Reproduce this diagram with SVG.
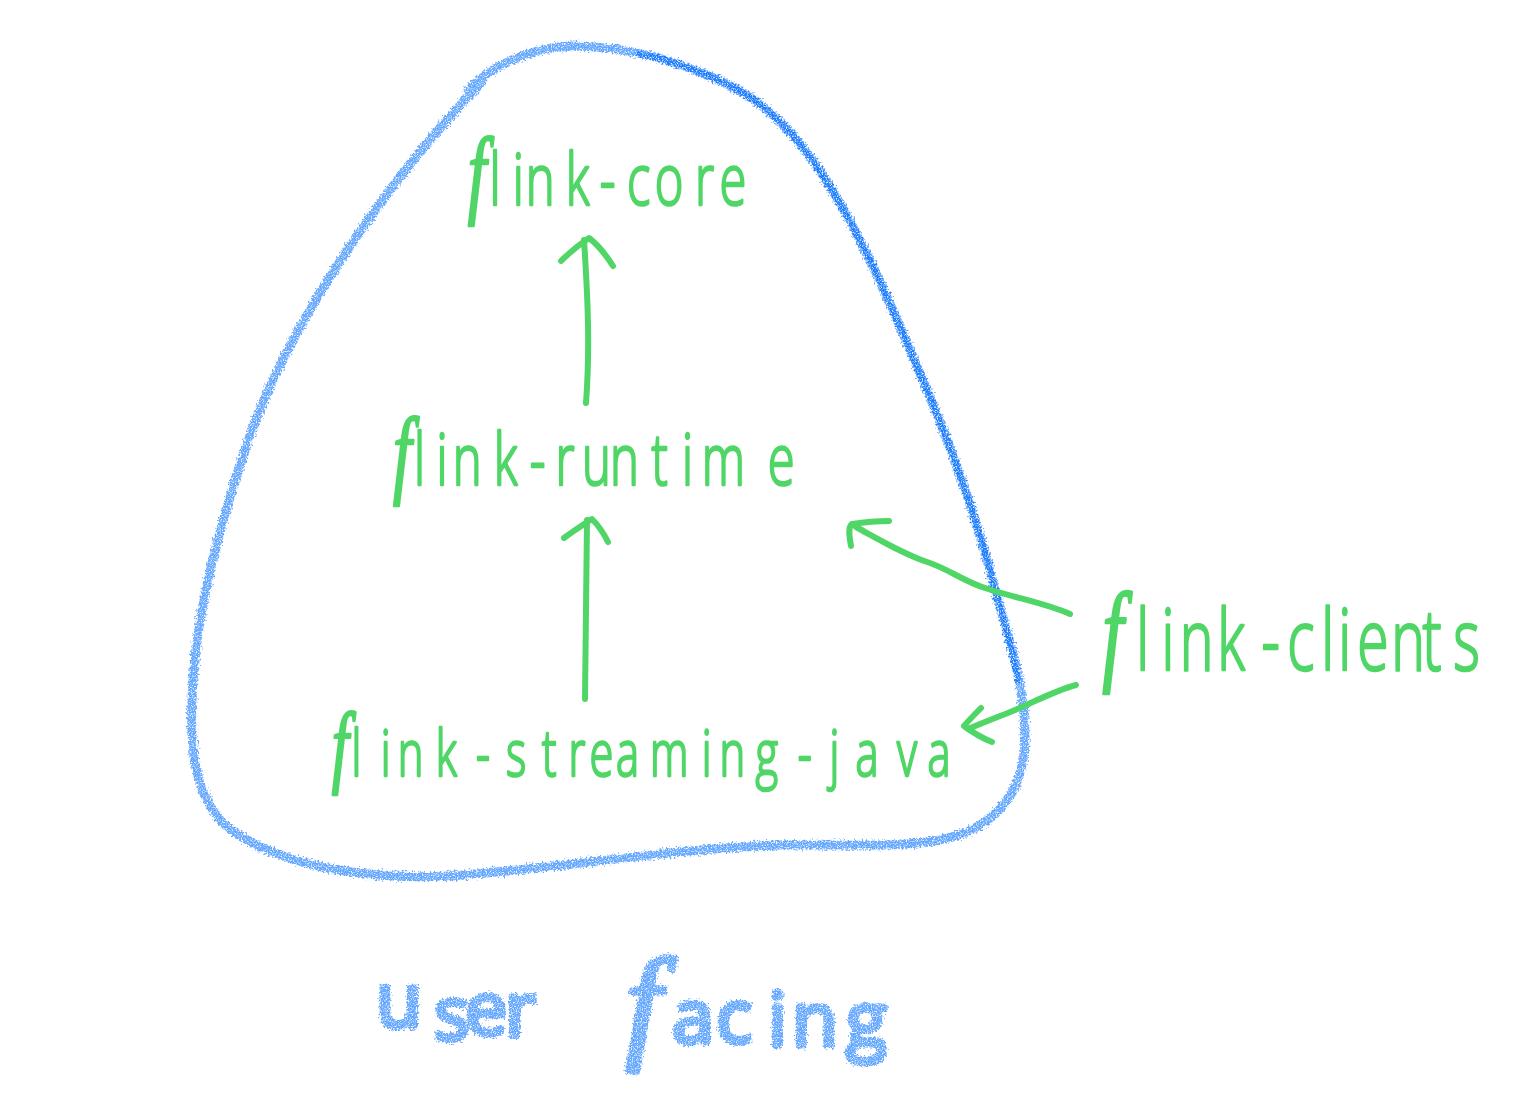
<svg xmlns="http://www.w3.org/2000/svg" width="1536" height="1114" viewBox="0 0 1536 1114">
<style>
.g{fill:none;stroke:#4fd666;stroke-width:6;stroke-linecap:round;stroke-linejoin:round}
.t{font-family:"Open Sans","DejaVu Sans",sans-serif;font-weight:300;fill:#4fd666;stroke:#4fd666;stroke-width:2.6;stroke-linejoin:round}
.f{font-family:"Liberation Serif",serif;font-style:italic;font-weight:400}
.b{fill:none;stroke:#2a85ff;stroke-width:9;stroke-linecap:round;stroke-linejoin:round;opacity:.72}
.d{fill:none;stroke:#1a7bff;stroke-width:6;stroke-linecap:round;stroke-linejoin:round}
.u{font-family:"Open Sans","DejaVu Sans",sans-serif;font-weight:400;font-size:75px;fill:#2a85ff;stroke:#2a85ff;stroke-width:5;stroke-linejoin:round;opacity:.72}
</style>
<defs>
<filter id="crayon" filterUnits="userSpaceOnUse" x="0" y="0" width="1536" height="1114">
<feTurbulence type="fractalNoise" baseFrequency="0.5" numOctaves="2" seed="4" result="n"/>
<feDisplacementMap in="SourceGraphic" in2="n" scale="8" xChannelSelector="R" yChannelSelector="G" result="d"/>
<feTurbulence type="fractalNoise" baseFrequency="0.8" numOctaves="2" seed="9"/>
<feColorMatrix type="matrix" values="0 0 0 0 0 0 0 0 0 0 0 0 0 0 0 3 0 0 0 -0.6" result="grain"/>
<feComposite in="d" in2="grain" operator="in" result="c"/>
<feGaussianBlur in="c" stdDeviation="0.7"/>
</filter>
</defs>
<g id="boundary" filter="url(#crayon)">
<path class="b" d="M468 90C490 68 525 48 572 46C625 46 680 60 735 88C775 110 805 145 832 190C860 235 885 290 912 355C945 430 975 510 995 590C1010 640 1025 690 1025 735C1025 785 1005 815 965 833C920 850 860 844 780 845C680 848 560 868 450 876C360 880 275 865 225 825C195 795 190 750 192 700C195 620 215 540 245 450C275 360 330 270 390 190C420 150 445 120 482 82"/>
<path class="d" d="M640 54C680 62 710 75 735 88C775 110 805 145 832 190C860 235 885 290 912 355C945 430 975 510 995 590C1004 620 1012 650 1018 680"/>
</g>
<g id="connectors">
<path class="g" d="M586 403C590 350 588 300 584 240M561 261C570 252 580 244 589 238C597 244 606 255 613 266"/>
<path class="g" d="M585 699C586 640 586 580 587 520M564 538C572 532 581 526 592 519C598 525 604 534 608 542"/>
<path class="g" d="M856 527C880 540 905 555 930 563C950 570 965 582 985 588C1015 598 1045 603 1070 614M851 546C849 535 848 527 852 524C865 522 878 521 889 521"/>
<path class="g" d="M1076 685C1050 692 1030 705 1000 716C985 722 975 726 968 729M981 708C975 714 969 720 964 726C972 732 982 738 992 742"/>
</g>
<g id="flink-core" transform="scale(.68,1)"><text class="t" style="font-size:72px" y="205"><tspan class="f" style="font-size:98px" x="688">f</tspan><tspan x="720 754 773 832 882 922 963 1022 1058">link-core</tspan></text></g>
<g id="flink-runtime" transform="scale(.68,1)"><text class="t" style="font-size:72px" y="485"><tspan class="f" style="font-size:98px" x="578">f</tspan><tspan x="609 642 666 726 779 817 856 897 958 1003 1032 1129">link-runtime</tspan></text></g>
<g id="flink-streaming-java" transform="scale(.68,1)"><text class="t" style="font-size:64px" y="776"><tspan class="f" style="font-size:90px" x="488">f</tspan><tspan x="517 560 585 641 700 744 797 836 867 906 956 1032 1058 1111 1173 1220 1258 1319 1364">link-streaming-java</tspan></text></g>
<g id="flink-clients" transform="scale(.68,1)"><text class="t" style="font-size:84px" y="670"><tspan class="f" style="font-size:112px" x="1621">f</tspan><tspan x="1671 1708 1735 1790 1855 1893 1943 1968 1996 2046 2092 2137">link-clients</tspan></text></g>
<g id="user-facing" filter="url(#crayon)"><text class="u"><tspan x="376 434 465 505 560" y="1027 1040 1035 1036 1040">user </tspan><tspan class="f" style="font-size:125px" x="626" y="1045">f</tspan><tspan x="672 716 768 792 846" y="1043 1043 1046 1046 1046">acing</tspan></text></g>
</svg>
